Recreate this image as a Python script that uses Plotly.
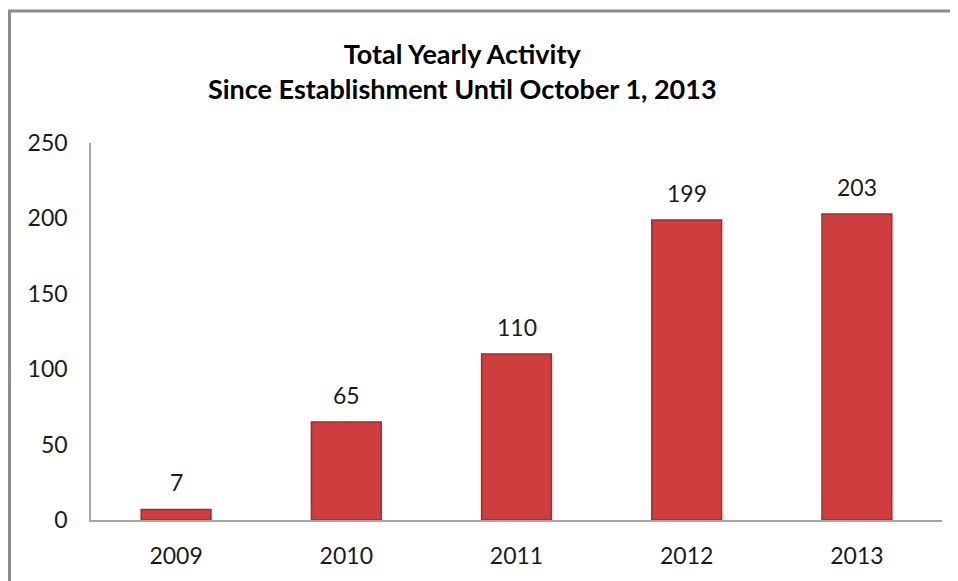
import plotly.graph_objects as go

years = ["2009", "2010", "2011", "2012", "2013"]
activity = [7, 65, 110, 199, 203]
y_ticks = [0, 50, 100, 150, 200, 250]

title_line1 = "Total Yearly Activity"
title_line2 = "Since Establishment Until October 1, 2013"

FONT = "Lato"
# page body has an 8px margin, so the figure sits at (8, 8)
W, H = 950, 573
PL, PR, PT, PB = 83, 16, 135, 61
pw = W - PL - PR
ph = H - PT - PB

fig = go.Figure()
fig.add_trace(go.Bar(
    x=years, y=activity,
    marker=dict(color="#cf3e3e", line=dict(color="#a02b2b", width=1.5)),
    width=0.41,
    hoverinfo="x+y",
))

# value labels (category index positions on the category axis)
for i, v in enumerate(activity):
    fig.add_annotation(x=i, y=v, xref="x", yref="y", text=str(v), showarrow=False,
                       yanchor="bottom", yshift=11,
                       font=dict(family=FONT, size=23, color="#1a1a1a"))

fig.add_annotation(
    xref="paper", yref="paper",
    x=(454 - PL) / pw, y=(H - PB - 63) / ph,
    xanchor="center", yanchor="middle", showarrow=False,
    text=f"<b>{title_line1}</b><br><b>{title_line2}</b>",
    font=dict(family=FONT, size=27, color="#000000"),
)

# chart frame (left and top edges visible in the crop)
fig.add_shape(type="rect", xref="paper", yref="paper",
              x0=(1.5 - PL) / pw, x1=(W + 20 - PL) / pw,
              y0=(H - PB - (H + 20)) / ph, y1=(H - PB - 3) / ph,
              line=dict(color="#8c8c8c", width=3), layer="below")

fig.update_layout(
    width=W, height=H,
    margin=dict(l=PL, r=PR, t=PT, b=PB, autoexpand=False),
    paper_bgcolor="white", plot_bgcolor="white",
    showlegend=False,
    font=dict(family=FONT, size=23, color="#1a1a1a"),
)
fig.update_xaxes(
    type="category", categoryorder="array", categoryarray=years,
    automargin=False,
    showline=True, linecolor="#a6a6a6", linewidth=1.5,
    showgrid=False, ticks="", ticklabelstandoff=15,
    tickfont=dict(family=FONT, size=23, color="#1a1a1a"),
)
fig.update_yaxes(
    range=[0, 250], tickvals=y_ticks, automargin=False,
    showline=True, linecolor="#a6a6a6", linewidth=1.5,
    showgrid=False, zeroline=False, ticks="", ticklabelstandoff=17,
    tickfont=dict(family=FONT, size=23, color="#1a1a1a"),
)

fig.write_html("out.html")
